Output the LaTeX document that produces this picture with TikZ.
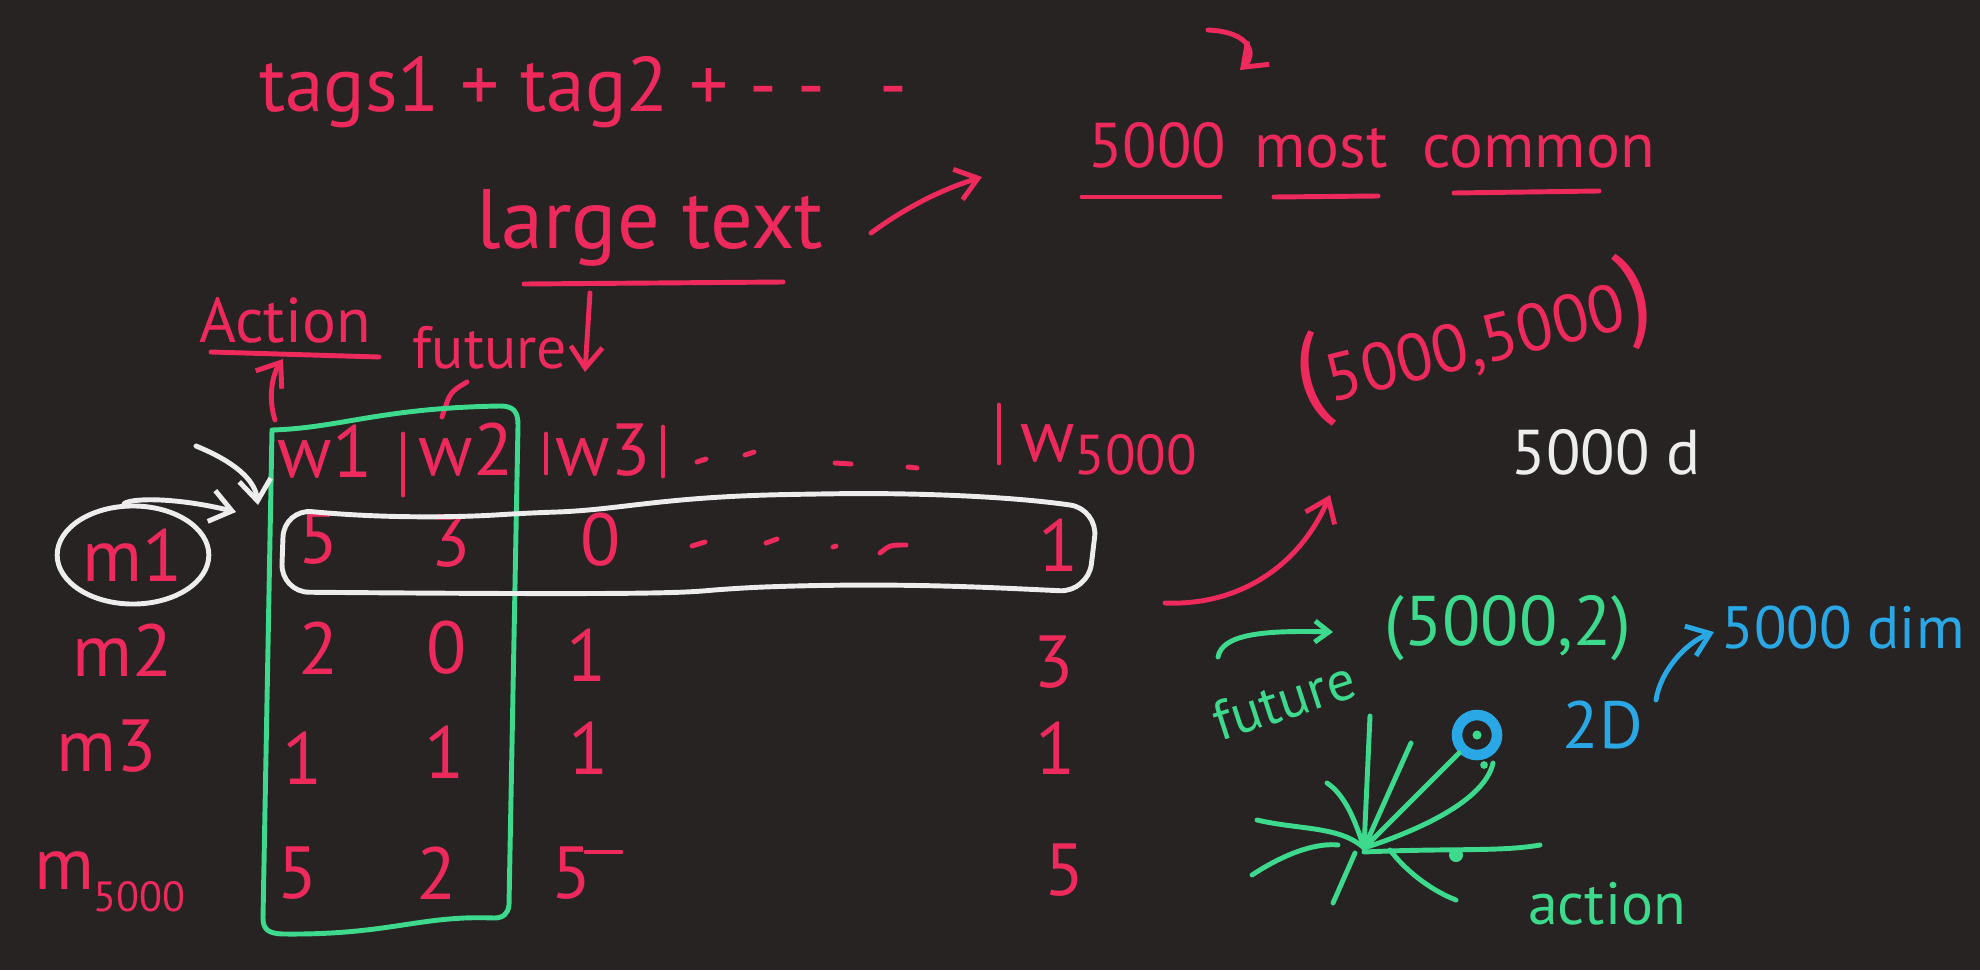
\documentclass[tikz,border=0pt]{standalone}
\usepackage{fontspec}
\setmainfont{PT Sans}
\usetikzlibrary{positioning, arrows.meta, shapes.geometric}

\definecolor{board}{HTML}{262322}
\definecolor{inkpink}{HTML}{EE2A5C}
\definecolor{inkgreen}{HTML}{3DD98C}
\definecolor{inkblue}{HTML}{2AA8E6}
\definecolor{inkwhite}{HTML}{EDEDED}

\newcommand{\inksize}[1]{\fontsize{#1}{#1}\selectfont}

\tikzset{
  ink/.style={line width=1.4pt, line cap=round, line join=round},
  pinkink/.style={ink, draw=inkpink},
  greenink/.style={ink, draw=inkgreen},
  blueink/.style={ink, draw=inkblue},
  whiteink/.style={ink, draw=inkwhite},
  tip/.style={-{Straight Barb[length=6pt, width=9pt]}},
  pinktext/.style={text=inkpink, inner sep=1pt},
  greentext/.style={text=inkgreen, inner sep=1pt},
  bluetext/.style={text=inkblue, inner sep=1pt},
  cell/.style={text=inkpink, inner sep=1pt, font=\inksize{21}},
  rowlabel/.style={text=inkpink, inner sep=1pt, font=\inksize{21}},
}

\begin{document}
\begin{tikzpicture}[x=0.01cm, y=-0.01cm]
  \fill[board] (0,0) rectangle (1980,970);

  % top notes
  \node[pinktext, font=\inksize{22}, anchor=base west] (tags) at (255,112) {tags1 + tag2 + - -\hspace{0.7em}-};
  \node[pinktext, font=\inksize{24}, anchor=base] (large) at (650,248) {large text};
  \draw[pinkink] (524,284) -- (783,282);

  \node[pinktext, font=\inksize{18}, anchor=base west] (five) at (1084,168) {5000};
  \node[pinktext, font=\inksize{18}, anchor=base west] (most) at (1250,168) {most};
  \node[pinktext, font=\inksize{18}, anchor=base west] (common) at (1418,168) {common};
  \draw[pinkink] (1082,197) -- (1220,197);
  \draw[pinkink] (1274,197) -- (1378,196);
  \draw[pinkink] (1454,193) -- (1599,191);

  \coordinate (hook) at (1208,30);
  \coordinate (hookend) at (1240,70);
  \draw[pinkink, tip] (hook) .. controls (1252,32) and (1256,55) .. (hookend);

  \coordinate (lt-out) at (871,233);
  \coordinate (lt-in) at (982,177);
  \draw[pinkink, tip] (lt-out) .. controls (905,208) and (940,190) .. (lt-in);

  % labels over the columns
  \node[pinktext, font=\inksize{18}] (act) at (285,320) {Action};
  \draw[pinkink] (211,352) -- (379,357);
  \node[pinktext, font=\inksize{17}] (fut) at (490,348) {future};
  \coordinate (down-from) at (590,293);
  \coordinate (down-to) at (585,372);
  \draw[pinkink, tip] (down-from) -- (down-to);
  \coordinate (act-from) at (275,420);
  \coordinate (act-to) at (283,359);
  \draw[pinkink, tip] (act-from) .. controls (268,398) and (272,375) .. (act-to);
  \coordinate (fut-tail) at (442,417);
  \draw[pinkink] (467,382) .. controls (450,392) .. (fut-tail);

  % header row
  \node[pinktext, font=\inksize{21}] (w1) at (325,452) {w1};
  \node[pinktext, font=\inksize{21}] (w2) at (466,450) {w2};
  \node[pinktext, font=\inksize{21}] (w3) at (603,450) {w3};
  \node[pinktext, font=\inksize{21}, anchor=west] (wlast) at (1016,450) {w\raisebox{-0.35ex}{\inksize{16}5000}};
  \draw[pinkink] (403,434) -- (403,495);
  \draw[pinkink] (546,434) -- (546,473);
  \draw[pinkink] (663,427) -- (663,476);
  \draw[pinkink] (999,405) -- (999,463);
  \draw[pinkink] (697,462) -- (706,459);
  \draw[pinkink] (745,455) -- (754,452);
  \draw[pinkink] (835,463) -- (851,464);
  \draw[pinkink] (908,467) -- (917,468);

  % row labels
  \node[ellipse, draw=inkwhite, line width=1.4pt, minimum width=1.33cm, minimum height=0.98cm,
        rowlabel] (m1) at (133,555) {m1};
  \node[rowlabel] (m2) at (123,650) {m2};
  \node[rowlabel] (m3) at (107,746) {m3};
  \node[rowlabel] (mlast) at (110,882) {m\raisebox{-0.6ex}{\inksize{12}5000}};

  % values
  \node[cell] (a11) at (319,538) {5};
  \node[cell] (a12) at (451,541) {3};
  \node[cell] (a13) at (601,540) {0};
  \node[cell] (a1n) at (1059,545) {1};
  \draw[pinkink] (692,546) -- (705,542);
  \draw[pinkink] (766,543) -- (777,539);
  \draw[pinkink] (833,547) -- (836,546);
  \draw[pinkink] (880,553) .. controls (890,545) .. (906,545);

  \node[cell] (a21) at (319,648) {2};
  \node[cell] (a22) at (447,648) {0};
  \node[cell] (a23) at (587,655) {1};
  \node[cell] (a2n) at (1054,662) {3};

  \node[cell] (a31) at (303,758) {1};
  \node[cell] (a32) at (445,752) {1};
  \node[cell] (a33) at (589,748) {1};
  \node[cell] (a3n) at (1056,748) {1};

  \node[cell] (a41) at (298,873) {5};
  \node[cell] (a42) at (437,873) {2};
  \node[cell] (a43) at (572,873) {5};
  \draw[pinkink] (586,852) -- (621,852);
  \node[cell] (a4n) at (1065,870) {5};

  % green column box
  \draw[greenink] (272,430) .. controls (340,428) and (380,408) .. (500,406)
    .. controls (514,406) and (518,412) .. (518,425) -- (509,905)
    .. controls (508,914) and (503,918) .. (494,918)
    .. controls (420,915) and (390,935) .. (285,934)
    .. controls (269,934) and (263,930) .. (263,918) -- cycle;

  % white row box
  \draw[whiteink, rounded corners=8] (284,509) .. controls (400,520) and (480,516) .. (526,513)
    .. controls (620,510) and (660,497) .. (814,494) .. controls (900,493) and (1000,495) .. (1098,509)
    -- (1088,592) .. controls (1000,588) and (900,582) .. (737,588)
    .. controls (680,593) and (640,595) .. (281,592) -- cycle;

  % white arrows to the row
  \coordinate (row-in) at (236,512);
  \draw[whiteink, tip] (m1.100) .. controls (130,498) and (175,497) .. (row-in);
  \coordinate (w-from) at (196,446);
  \coordinate (w-to) at (258,505);
  \draw[whiteink, tip] (w-from) .. controls (235,462) and (255,480) .. (w-to);

  % right side notes
  \node[pinktext, rotate=14] (big) at (1474,340) {\inksize{30}(\inksize{19}5000,5000\inksize{30})};
  \node[text=inkwhite, font=\inksize{18}, inner sep=1pt] (dd) at (1606,452) {5000 d};

  \coordinate (big-from) at (1165,603);
  \coordinate (big-to) at (1330,495);
  \draw[pinkink, tip] (big-from) .. controls (1240,606) and (1300,565) .. (big-to);

  \node[greentext, font=\inksize{20}] (fivetwo) at (1508,628) {(5000,2)};
  \node[greentext, font=\inksize{16}, rotate=18] (futg) at (1284,700) {future};
  \coordinate (g-from) at (1218,657);
  \coordinate (g-to) at (1333,632);
  \draw[greenink, -{Straight Barb[length=4pt, width=6pt]}] (g-from) .. controls (1222,635) and (1260,630) .. (g-to);

  % the 2D picture
  \coordinate (hub) at (1364,848);
  \node[circle, draw=inkblue, line width=3pt, minimum size=0.4cm, inner sep=0pt] (pt) at (1477,735) {};
  \fill[inkgreen] (pt) circle (1.3pt);
  \fill[inkgreen] (1484,765) circle (1.1pt);
  \draw[greenink] (hub) -- (1370,716);
  \draw[greenink] (hub) -- (1411,743);
  \draw[greenink] (hub) -- (pt);
  \draw[greenink] (1493,763) .. controls (1485,800) and (1420,830) .. (hub);
  \draw[greenink] (1364,852) .. controls (1450,848) and (1500,852) .. (1540,845);
  \fill[inkgreen] (1456,855) circle (2pt);
  \draw[greenink] (1257,820) .. controls (1300,830) and (1340,826) .. (hub);
  \draw[greenink] (1252,875) .. controls (1290,850) and (1320,843) .. (1338,845);
  \draw[greenink] (1327,783) .. controls (1345,795) and (1355,820) .. (hub);
  \draw[greenink] (1355,853) -- (1333,903);
  \draw[greenink] (1390,850) .. controls (1405,870) and (1430,890) .. (1456,900);
  \node[greentext, font=\inksize{17}, below right=0.3cm and 1.6cm of hub] (action) {action};

  \node[bluetext, font=\inksize{19}] (twod) at (1603,725) {2D};
  \node[bluetext, font=\inksize{17}] (dim) at (1843,628) {5000 dim};
  \coordinate (b-from) at (1656,700);
  \coordinate (b-to) at (1714,632);
  \draw[blueink, tip] (b-from) .. controls (1660,672) and (1685,643) .. (b-to);
\end{tikzpicture}
\end{document}
